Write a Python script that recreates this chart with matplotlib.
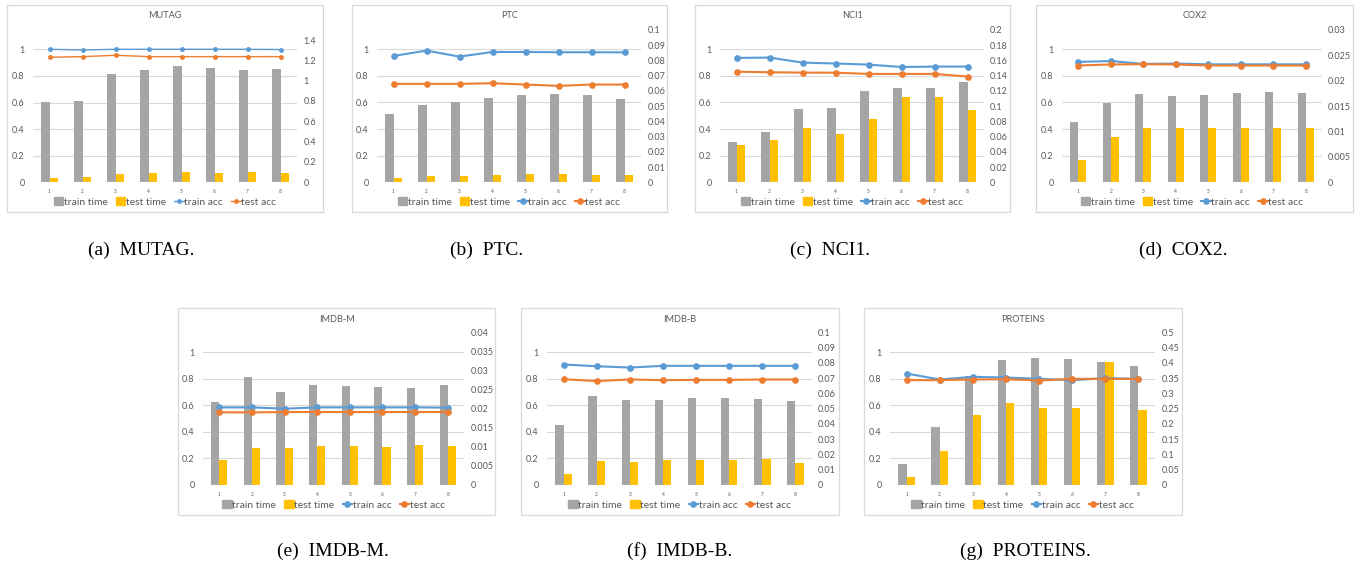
import matplotlib
matplotlib.use("Agg")
import matplotlib.pyplot as plt
import numpy as np
from matplotlib.patches import Rectangle
from matplotlib.lines import Line2D
from matplotlib.ticker import FuncFormatter

W, H = 1359, 567

runs = ["1", "2", "3", "4", "5", "6", "7", "8"]

# times on the right (secondary) axis, accuracies on the left one
mutag_train_time = [0.79, 0.80, 1.07, 1.105, 1.14, 1.125, 1.10, 1.11]
mutag_test_time = [0.04, 0.052, 0.085, 0.092, 0.098, 0.092, 0.098, 0.092]
mutag_train_acc = [1.0, 0.995, 1.0, 1.0, 1.0, 1.0, 1.0, 0.998]
mutag_test_acc = [0.94, 0.945, 0.955, 0.945, 0.945, 0.945, 0.945, 0.945]

ptc_train_time = [0.045, 0.051, 0.0528, 0.0554, 0.0572, 0.058, 0.0576, 0.0546]
ptc_test_time = [0.0031, 0.0039, 0.0044, 0.0048, 0.0052, 0.0052, 0.0051, 0.0048]
ptc_train_acc = [0.95, 0.99, 0.945, 0.98, 0.98, 0.978, 0.978, 0.977]
ptc_test_acc = [0.74, 0.74, 0.74, 0.745, 0.735, 0.725, 0.735, 0.735]

nci1_train_time = [0.0533, 0.0655, 0.096, 0.0978, 0.1196, 0.124, 0.124, 0.1318]
nci1_test_time = [0.0489, 0.0559, 0.0716, 0.0629, 0.0829, 0.1117, 0.1126, 0.0943]
nci1_train_acc = [0.935, 0.938, 0.9, 0.893, 0.885, 0.867, 0.87, 0.87]
nci1_test_acc = [0.832, 0.827, 0.825, 0.824, 0.815, 0.815, 0.815, 0.795]

cox2_train_time = [0.0119, 0.0157, 0.0173, 0.017, 0.0172, 0.0175, 0.0177, 0.0175]
cox2_test_time = [0.00445, 0.0089, 0.01074, 0.0106, 0.01074, 0.0106, 0.01074, 0.0106]
cox2_train_acc = [0.905, 0.912, 0.89, 0.893, 0.887, 0.887, 0.887, 0.887]
cox2_test_acc = [0.878, 0.886, 0.888, 0.886, 0.878, 0.878, 0.878, 0.878]

imdbm_train_time = [0.0217, 0.0283, 0.0243, 0.0262, 0.0259, 0.0257, 0.0255, 0.0262]
imdbm_test_time = [0.0066, 0.0097, 0.0097, 0.0101, 0.0101, 0.0099, 0.0104, 0.0103]
imdbm_train_acc = [0.585, 0.585, 0.575, 0.585, 0.585, 0.585, 0.585, 0.583]
imdbm_test_acc = [0.548, 0.547, 0.55, 0.55, 0.55, 0.55, 0.55, 0.55]

imdbb_train_time = [0.0395, 0.0584, 0.0556, 0.0559, 0.0567, 0.0567, 0.0563, 0.0552]
imdbb_test_time = [0.007, 0.0159, 0.0152, 0.0165, 0.0161, 0.0161, 0.0167, 0.0143]
imdbb_train_acc = [0.908, 0.895, 0.885, 0.898, 0.898, 0.898, 0.898, 0.898]
imdbb_test_acc = [0.797, 0.783, 0.795, 0.79, 0.792, 0.792, 0.795, 0.795]

proteins_train_time = [0.0673, 0.191, 0.356, 0.408, 0.415, 0.413, 0.402, 0.389]
proteins_test_time = [0.0252, 0.111, 0.228, 0.269, 0.251, 0.252, 0.402, 0.2455]
proteins_train_acc = [0.84, 0.795, 0.815, 0.81, 0.8, 0.79, 0.805, 0.8]
proteins_test_acc = [0.79, 0.79, 0.795, 0.797, 0.787, 0.8, 0.8, 0.8]

GRAY = "#A5A5A5"
GOLD = "#FFC000"
BLUE = "#5B9BD5"
ORANGE = "#ED7D31"
GRID = "#D9D9D9"
TXT = "#595959"
FONT = "Lato"


def fig_rect(x0, y0, x1, y1):
    # pixel box (top-left origin) -> figure fraction
    return [x0 / W, 1 - y1 / H, (x1 - x0) / W, (y1 - y0) / H]


def panel(fig, box, plot, title, caption, cap_xy, train_time, test_time,
          train_acc, test_acc, rmax, rstep, thin=False):
    bx0, by0, bx1, by1 = box
    fig.patches.append(Rectangle((bx0 / W, 1 - by1 / H), (bx1 - bx0) / W,
                                 (by1 - by0) / H, transform=fig.transFigure,
                                 fill=False, edgecolor=GRID, lw=0.9))
    px0, ptop, px1, pzero, pone = plot
    ax = fig.add_axes(fig_rect(px0, ptop, px1, pzero))
    ax2 = ax.twinx()
    ax.set_zorder(2)
    ax.patch.set_visible(False)

    x = np.arange(len(runs))
    ax2.bar(x - 0.125, train_time, 0.25, color=GRAY, zorder=2)
    ax2.bar(x + 0.125, test_time, 0.25, color=GOLD, zorder=2)
    ax2.set_ylim(0, rmax)
    ax2.set_yticks(np.arange(0, rmax + rstep / 2, rstep))
    ax2.yaxis.set_major_formatter(FuncFormatter(lambda v, p: "%g" % round(v, 4)))

    lw = 1.0 if thin else 1.5
    ms = 2.5 if thin else 3.8
    ax.plot(x, train_acc, color=BLUE, lw=lw, marker="o", ms=ms)
    ax.plot(x, test_acc, color=ORANGE, lw=lw, marker="o", ms=ms)
    ax.set_ylim(0, (pzero - ptop) / (pzero - pone))
    ax.set_yticks([0, 0.2, 0.4, 0.6, 0.8, 1])
    ax.set_yticklabels(["0", "0.2", "0.4", "0.6", "0.8", "1"])
    ax.set_xlim(-0.5, len(runs) - 0.5)
    ax.set_xticks(x)
    ax.set_xticklabels(runs)

    for gy in [0.2, 0.4, 0.6, 0.8, 1]:
        ax2.axhline(gy * rmax / ax.get_ylim()[1], color=GRID, lw=0.8, zorder=0)
    ax2.axhline(0, color=GRID, lw=0.9, zorder=3)

    for a in (ax, ax2):
        for s in a.spines.values():
            s.set_visible(False)
        a.tick_params(length=0, colors=TXT)
    ax.tick_params(axis="y", labelsize=6.5, pad=6)
    ax2.tick_params(axis="y", labelsize=6.5, pad=4.5)
    ax.tick_params(axis="x", labelsize=3.5, pad=5)
    for lab in ax.get_yticklabels() + ax2.get_yticklabels() + ax.get_xticklabels():
        lab.set_fontfamily(FONT)

    fig.text((bx0 + bx1) / 2 / W, 1 - (by0 + 11) / H, title, ha="center",
             va="center", fontsize=6.6, color=TXT, family=FONT)

    handles = [Rectangle((0, 0), 1, 1, color=GRAY),
               Rectangle((0, 0), 1, 1, color=GOLD),
               Line2D([], [], color=BLUE, lw=lw, marker="o", ms=ms),
               Line2D([], [], color=ORANGE, lw=lw, marker="o", ms=ms)]
    fig.legend(handles, ["train time", "test time", "train acc", "test acc"],
               loc="center", bbox_to_anchor=((px0 + px1) / 2 / W, 1 - (by1 - 10) / H),
               ncol=4, frameon=False, prop={"family": FONT, "size": 7.5},
               labelcolor=TXT, handlelength=0.9, handleheight=0.75,
               handletextpad=0.05, columnspacing=0.8)

    fig.text(cap_xy[0] / W, 1 - cap_xy[1] / H, caption, ha="center", va="center",
             fontsize=14, family="Liberation Serif", color="black")


fig = plt.figure(figsize=(W / 100, H / 100), dpi=100)

panel(fig, (7, 5, 323, 212), (33, 40, 297, 182.3, 49.3), "MUTAG", "(a)  MUTAG.",
      (141, 250), mutag_train_time, mutag_test_time, mutag_train_acc,
      mutag_test_acc, 1.4, 0.2, thin=True)
panel(fig, (352, 5, 667, 212), (377, 30, 641, 182.3, 49.3), "PTC", "(b)  PTC.",
      (487, 250), ptc_train_time, ptc_test_time, ptc_train_acc, ptc_test_acc,
      0.1, 0.01)
panel(fig, (695, 5, 1010, 212), (720, 30, 984, 182.3, 49.3), "NCI1", "(c)  NCI1.",
      (830, 250), nci1_train_time, nci1_test_time, nci1_train_acc,
      nci1_test_acc, 0.2, 0.02)
panel(fig, (1036, 5, 1353, 212), (1062, 30, 1322, 182.3, 49.3), "COX2", "(d)  COX2.",
      (1183, 250), cox2_train_time, cox2_test_time, cox2_train_acc,
      cox2_test_acc, 0.03, 0.005)
panel(fig, (178, 308, 495, 515), (203, 332.3, 464, 485, 352.3), "IMDB-M",
      "(e)  IMDB-M.", (333, 551), imdbm_train_time, imdbm_test_time,
      imdbm_train_acc, imdbm_test_acc, 0.04, 0.005)
panel(fig, (521, 308, 839, 515), (547, 332.3, 812, 485, 352.3), "IMDB-B",
      "(f)  IMDB-B.", (680, 551), imdbb_train_time, imdbb_test_time,
      imdbb_train_acc, imdbb_test_acc, 0.1, 0.01)
panel(fig, (864, 308, 1182, 515), (890, 332.3, 1155, 485, 352.3), "PROTEINS",
      "(g)  PROTEINS.", (1025, 551), proteins_train_time, proteins_test_time,
      proteins_train_acc, proteins_test_acc, 0.5, 0.05)

fig.savefig("out.png", dpi=100)
